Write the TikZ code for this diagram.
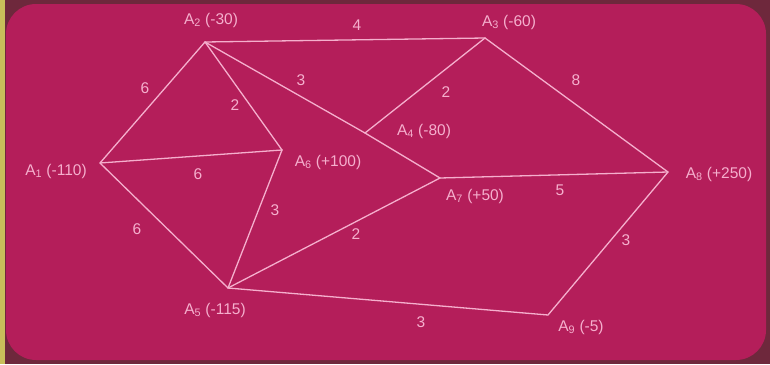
\documentclass[tikz,border=0pt]{standalone}
\usepackage{fontspec}
\setmainfont{Liberation Sans}
\definecolor{board}{RGB}{180,30,90}
\definecolor{outer}{RGB}{110,40,60}
\definecolor{chalk}{RGB}{245,175,205}
\definecolor{edgeyel}{RGB}{200,190,90}
\begin{document}
\begin{tikzpicture}[x=1pt,y=-1pt,
  lbl/.style={text=chalk,font=\fontsize{15.5}{18}\selectfont,inner sep=1pt},
  wt/.style={text=chalk,font=\fontsize{15.5}{18}\selectfont,inner sep=1pt},
  edge/.style={draw=chalk,line width=1.3pt,line cap=round,line join=round}]
\useasboundingbox (0,0) rectangle (770,364);
\fill[outer] (0,0) rectangle (770,364);
\fill[edgeyel] (0,0) rectangle (5,364);
\fill[board,rounded corners=30pt] (6,4) rectangle (766,360);
% vertices
\coordinate (A1) at (100,163);
\coordinate (A2) at (205,42);
\coordinate (A3) at (485,38);
\coordinate (A4) at (365,133);
\coordinate (A6) at (282,150);
\coordinate (A7) at (440,178);
\coordinate (A8) at (668,172);
\coordinate (A5) at (228,288);
\coordinate (A9) at (548,315);
% labels
\node[lbl] (L1) at (56,171) {A\textsubscript{1} (-110)};
\node[lbl] (L2) at (211,20) {A\textsubscript{2} (-30)};
\node[lbl] (L3) at (509,22) {A\textsubscript{3} (-60)};
\node[lbl] (L4) at (424,131) {A\textsubscript{4} (-80)};
\node[lbl] (L6) at (328,162) {A\textsubscript{6} (+100)};
\node[lbl] (L7) at (475,196) {A\textsubscript{7} (+50)};
\node[lbl] (L8) at (719,174) {A\textsubscript{8} (+250)};
\node[lbl] (L5) at (215,310) {A\textsubscript{5} (-115)};
\node[lbl] (L9) at (581,327) {A\textsubscript{9} (-5)};
% edges
\draw[edge] (A1) -- (A2);
\draw[edge] (A2) -- (A3);
\draw[edge] (A3) -- (A8);
\draw[edge] (A2) -- (A6);
\draw[edge] (A2) -- (A4);
\draw[edge] (A4) -- (A7);
\draw[edge] (A3) -- (A4);
\draw[edge] (A1) -- (A6);
\draw[edge] (A1) -- (A5);
\draw[edge] (A6) -- (A5);
\draw[edge] (A5) -- (A7);
\draw[edge] (A7) -- (A8);
\draw[edge] (A8) -- (A9);
\draw[edge] (A5) -- (A9);
% weights
\node[wt] (w12) at (145,88) {6};
\node[wt] (w23) at (357,25) {4};
\node[wt] (w38) at (576,80) {8};
\node[wt] (w26) at (235,105) {2};
\node[wt] (w24) at (301,80) {3};
\node[wt] (w34) at (446,92) {2};
\node[wt] (w16) at (198,174) {6};
\node[wt] (w15) at (137,229) {6};
\node[wt] (w65) at (275,210) {3};
\node[wt] (w57) at (356,234) {2};
\node[wt] (w78) at (560,190) {5};
\node[wt] (w89) at (626,240) {3};
\node[wt] (w59) at (421,322) {3};
\end{tikzpicture}
\end{document}
